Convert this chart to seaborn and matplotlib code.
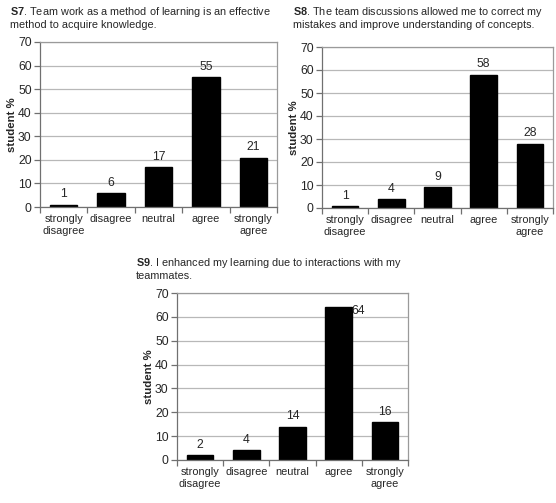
import matplotlib
matplotlib.use('Agg')
import pandas as pd
import seaborn as sns
import matplotlib.pyplot as plt

categories = ['strongly\ndisagree', 'disagree', 'neutral', 'agree', 'strongly\nagree']
s7_values = [1, 6, 17, 55, 21]
s8_values = [1, 4, 9, 58, 28]
s9_values = [2, 4, 14, 64, 16]
s7_title = r'$\mathbf{S7}$. Team work as a method of learning is an effective' + '\nmethod to acquire knowledge.'
s8_title = r'$\mathbf{S8}$. The team discussions allowed me to correct my' + '\nmistakes and improve understanding of concepts.'
s9_title = r'$\mathbf{S9}$. I enhanced my learning due to interactions with my' + '\nteammates.'
y_ticks = [0, 10, 20, 30, 40, 50, 60, 70]

sns.set_style('white')
plt.rcParams['font.family'] = ['Liberation Sans', 'DejaVu Sans']
plt.rcParams['mathtext.fontset'] = 'custom'
plt.rcParams['mathtext.bf'] = 'Liberation Sans:bold'
plt.rcParams['mathtext.rm'] = 'Liberation Sans'

W, H = 556, 503
fig = plt.figure(figsize=(W / 100, H / 100), dpi=100)
FS = 7.9


def px_axes(left, top, right, bottom):
    return fig.add_axes([left / W, 1 - bottom / H, (right - left) / W, (bottom - top) / H])


def panel(ax, values, title, tx, ty):
    df = pd.DataFrame({'response': categories, 'pct': values})
    sns.barplot(data=df, x='response', y='pct', color='black', width=0.58,
                edgecolor='black', ax=ax, saturation=1)
    ax.set_ylim(0, 70)
    ax.set_xlim(-0.5, 4.5)
    ax.set_yticks(y_ticks)
    ax.yaxis.grid(True, color='#b8b8b8', lw=0.9)
    ax.set_axisbelow(True)
    for s in ax.spines.values():
        s.set_color('#9a9a9a')
        s.set_linewidth(0.9)
    ax.spines['left'].set_color('#707070')
    ax.spines['bottom'].set_color('#707070')
    ax.tick_params(axis='y', length=4, width=0.9, color='#707070', labelsize=8.8,
                   pad=2, left=True)
    ax.tick_params(axis='x', length=0, labelsize=FS, pad=5)
    ax.set_xticks([i - 0.5 for i in range(6)], minor=True)
    ax.tick_params(axis='x', which='minor', length=4, width=0.9, color='#707070', bottom=True)
    ax.set_xlabel('')
    ax.set_ylabel('student %', fontweight='bold', fontsize=8.2, labelpad=1)
    labels = ax.bar_label(ax.containers[0], labels=[str(v) for v in values],
                          padding=3, fontsize=8.8)
    fig.text(tx / W, 1 - ty / H, title, fontsize=FS - 0.1, va='top', ha='left',
             linespacing=1.15)
    return labels


ax7 = px_axes(40, 42, 277, 207)
panel(ax7, s7_values, s7_title, 10, 5)

ax8 = px_axes(322, 47, 553, 208)
panel(ax8, s8_values, s8_title, 293, 5)

ax9 = px_axes(177, 293, 408, 460)
lbl9 = panel(ax9, s9_values, s9_title, 136, 256)
# the 64 label sits beside the bar top in the original
t = lbl9[3]
t.set_ha('left')
t.set_va('top')
t.xyann = (9, 2)

fig.savefig('out.png', dpi=100)
